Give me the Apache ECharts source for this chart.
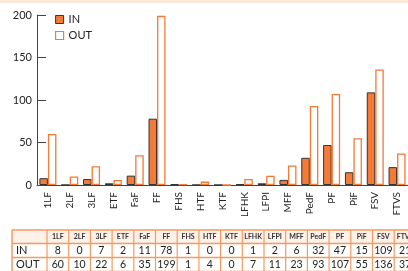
<!DOCTYPE html>
<html>
<head>
<meta charset="utf-8">
<script src="https://cdn.jsdelivr.net/npm/echarts@6/dist/echarts.min.js"></script>
<style>
  html, body { margin: 0; padding: 0; background: #fff; }
  #chart { width: 408px; height: 271px; }
</style>
</head>
<body>
<div id="chart"></div>
<script>
const categories = ['1LF', '2LF', '3LF', 'ETF', 'FaF', 'FF', 'FHS', 'HTF', 'KTF', 'LFHK', 'LFPI', 'MFF', 'PedF', 'PF', 'PiF', 'FSV', 'FTVS'];
const inValues = [8, 0, 7, 2, 11, 78, 1, 0, 0, 1, 2, 6, 32, 47, 15, 109, 21];
const outValues = [60, 10, 22, 6, 35, 199, 1, 4, 0, 7, 11, 23, 93, 107, 55, 136, 37];
const yTicks = [0, 50, 100, 150, 200];

const FONT = 'Lato, "DejaVu Sans", sans-serif';
const ORANGE = '#f47a38';
const LINE = '#f49a64';

// table under the chart, laid out as graphic elements
function buildTable() {
    const x0 = 12, firstW = 35, colW = 21.7;
    const rows = [230, 243.5, 257.5, 271.5];
    const els = [];
    const right = x0 + firstW + colW * categories.length;
    els.push({ type: 'rect', shape: { x: x0, y: rows[0], width: right - x0, height: rows[1] - rows[0] },
        style: { fill: '#fdf1e8' } });
    rows.forEach(y => els.push({ type: 'line', shape: { x1: x0, y1: y, x2: right, y2: y },
        style: { stroke: LINE, lineWidth: 1.5 } }));
    els.push({ type: 'line', shape: { x1: x0, y1: rows[0], x2: x0, y2: 272 }, style: { stroke: LINE, lineWidth: 1.5 } });
    for (let i = 0; i <= categories.length; i++) {
        const x = x0 + firstW + colW * i;
        els.push({ type: 'line', shape: { x1: x, y1: rows[0], x2: x, y2: 272 }, style: { stroke: LINE, lineWidth: 1.2 } });
    }
    els.push({ type: 'text', style: { x: x0 + 4, y: (rows[1] + rows[2]) / 2, text: 'IN', font: '11px ' + FONT,
        fill: '#222', verticalAlign: 'middle' } });
    els.push({ type: 'text', style: { x: x0 + 4, y: (rows[2] + rows[3]) / 2, text: 'OUT', font: '11px ' + FONT,
        fill: '#222', verticalAlign: 'middle' } });
    categories.forEach((c, i) => {
        const cx = x0 + firstW + colW * (i + 0.5);
        els.push({ type: 'text', style: { x: cx, y: (rows[0] + rows[1]) / 2, text: c, font: 'bold 7px ' + FONT,
            fill: '#333', align: 'center', verticalAlign: 'middle' } });
        els.push({ type: 'text', style: { x: cx, y: (rows[1] + rows[2]) / 2, text: String(inValues[i]),
            font: '10.5px ' + FONT, fill: '#222', align: 'center', verticalAlign: 'middle' } });
        els.push({ type: 'text', style: { x: cx, y: (rows[2] + rows[3]) / 2, text: String(outValues[i]),
            font: '10.5px ' + FONT, fill: '#222', align: 'center', verticalAlign: 'middle' } });
    });
    return els;
}

const chart = echarts.init(document.getElementById('chart'), null, { renderer: 'canvas' });
chart.setOption({
    animation: false,
    backgroundColor: '#fff',
    textStyle: { fontFamily: FONT },
    grid: { left: 37, top: 15, width: 377, height: 170 },
    legend: {
        orient: 'vertical', left: 50, top: 9, itemWidth: 8, itemHeight: 8, itemGap: 5,
        textStyle: { fontSize: 11, color: '#222', fontFamily: FONT },
        data: [
            { name: 'IN', icon: 'rect', itemStyle: { color: ORANGE, borderColor: '#333', borderWidth: 1 } },
            { name: 'OUT', icon: 'rect', itemStyle: { color: '#fff', borderColor: ORANGE, borderWidth: 1.2 } }
        ]
    },
    xAxis: {
        type: 'category', data: categories,
        axisLine: { lineStyle: { color: '#444', width: 1 } },
        axisTick: { inside: true, length: 4, lineStyle: { color: '#444' } },
        axisLabel: { rotate: 90, fontSize: 10, color: '#222', margin: 7, fontFamily: FONT }
    },
    yAxis: {
        type: 'value', min: yTicks[0], max: yTicks[yTicks.length - 1], interval: 50,
        splitLine: { show: false },
        axisLine: { show: true, lineStyle: { color: '#444', width: 1 } },
        axisTick: { show: true, inside: true, length: 9, lineStyle: { color: '#444' } },
        axisLabel: { fontSize: 11, color: '#222', margin: 5, fontFamily: FONT }
    },
    series: [
        { name: 'IN', type: 'bar', data: inValues, barGap: '0%', barCategoryGap: '22%',
          itemStyle: { color: ORANGE, borderColor: '#333', borderWidth: 1 } },
        { name: 'OUT', type: 'bar', data: outValues,
          itemStyle: { color: '#fff', borderColor: ORANGE, borderWidth: 1.3 } }
    ],
    graphic: [
        { type: 'rect', shape: { x: 0, y: 0, width: 408, height: 3 }, style: { fill: '#fde9da' } },
        ...buildTable()
    ]
});
</script>
</body>
</html>
